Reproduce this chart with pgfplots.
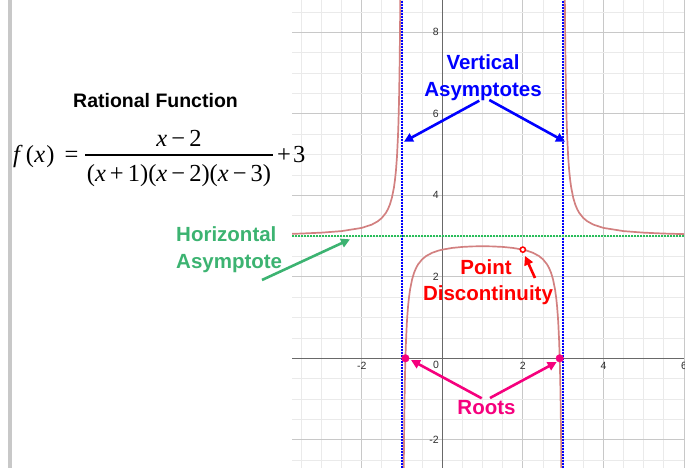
\documentclass[border=0pt]{standalone}
\usepackage{pgfplots}
\pgfplotsset{compat=1.18}
\usepackage{fontspec}
\setmainfont{Liberation Sans}
\newfontfamily\tnr{Liberation Serif}
\usetikzlibrary{arrows.meta}
\definecolor{curve}{RGB}{210,128,128}
\definecolor{vblue}{RGB}{0,0,255}
\definecolor{hgreen}{RGB}{60,179,113}
\definecolor{dgreen}{RGB}{40,190,90}
\definecolor{pred}{RGB}{255,0,0}
\definecolor{rpink}{RGB}{245,0,125}
\definecolor{majgrid}{RGB}{200,200,200}
\definecolor{mingrid}{RGB}{234,234,234}
\definecolor{axisgray}{RGB}{105,105,105}
\definecolor{sidebar}{RGB}{200,200,200}
\begin{document}
\begin{tikzpicture}
\begin{axis}[
  at={(292pt,0pt)}, anchor=south west,
  scale only axis, width=392pt, height=468pt,
  xmin=-3.73, xmax=6, ymin=-2.692, ymax=8.793,
  axis lines=middle, axis line style={-, draw=axisgray, line width=0.9pt},
  xtick={-2,0,2,4,6}, ytick={-2,2,4,6,8},
  minor xtick={-3.5,-3,...,6}, minor ytick={-2.5,-2,...,8.5},
  grid=both,
  major grid style={draw=majgrid, line width=0.8pt},
  minor grid style={draw=mingrid, line width=0.8pt},
  major tick length=0pt, minor tick length=0pt,
  /pgf/number format/assume math mode=true,
  ticklabel style={font=\fontsize{10.5}{12}\selectfont, text=black!82},
  clip=true,
]
% left branch
\addplot[curve, line width=1.7pt] coordinates {
(-3.73,3.0544) (-3.5,3.0615) (-3,3.0833) (-2.5,3.1212) (-2,3.2) (-1.75,3.2807)
(-1.6,3.3623) (-1.5,3.4444) (-1.4,3.5682) (-1.35,3.6568) (-1.3,3.7752) (-1.25,3.9412)
(-1.2,4.1905) (-1.175,4.3687) (-1.15,4.6064) (-1.125,4.9394) (-1.1,5.4390) (-1.09,5.7167)
(-1.08,6.0637) (-1.07,6.5100) (-1.06,7.1051) (-1.05,7.9383) (-1.045,8.4937) (-1.04,9.1881) (-1.035,10.081)};
% middle branch
\addplot[curve, line width=1.7pt] coordinates {
(-0.96,-3.3131) (-0.955,-2.6188) (-0.95,-2.0633) (-0.94,-1.2301) (-0.93,-0.6350) (-0.92,-0.1888)
(-0.91,0.1583) (-0.9,0.4359) (-0.88,0.8522) (-0.87,1.0123) (-0.85,1.2684) (-0.83,1.4641)
(-0.8,1.6842) (-0.75,1.9333) (-0.7,2.0991) (-0.65,2.2172) (-0.6,2.3056) (-0.5,2.4286)
(-0.4,2.5098) (-0.25,2.5897) (-0.1,2.6416) (0,2.6667) (0.25,2.7091) (0.5,2.7333) (0.75,2.7460)
(1,2.75) (1.25,2.7460) (1.5,2.7333) (1.75,2.7091) (2,2.6667) (2.1,2.6416) (2.25,2.5897)
(2.4,2.5098) (2.5,2.4286) (2.6,2.3056) (2.65,2.2172) (2.7,2.0991) (2.75,1.9333)
(2.8,1.6842) (2.83,1.4641) (2.85,1.2684) (2.87,1.0123) (2.88,0.8522) (2.9,0.4359)
(2.91,0.1583) (2.92,-0.1888) (2.93,-0.6350) (2.94,-1.2301) (2.95,-2.0633) (2.955,-2.6188) (2.96,-3.3131)};
% right branch
\addplot[curve, line width=1.7pt] coordinates {
(3.035,10.081) (3.04,9.1881) (3.045,8.4937) (3.05,7.9383) (3.06,7.1051) (3.07,6.5100)
(3.08,6.0637) (3.09,5.7167) (3.1,5.4390) (3.125,4.9394) (3.15,4.6064) (3.175,4.3687)
(3.2,4.1905) (3.25,3.9412) (3.3,3.7752) (3.35,3.6568) (3.4,3.5682) (3.5,3.4444)
(3.6,3.3623) (3.75,3.2807) (4,3.2) (4.5,3.1212) (5,3.0833) (5.5,3.0615) (6,3.0476)};
% asymptotes
\addplot[vblue, line width=1.5pt, dash pattern=on 1.5pt off 1.5pt] coordinates {(-1,-2.692) (-1,8.793)};
\addplot[vblue, line width=1.5pt, dash pattern=on 1.5pt off 1.5pt] coordinates {(3,-2.692) (3,8.793)};
\addplot[dgreen, line width=1.5pt, dash pattern=on 1.5pt off 1.5pt] coordinates {(-3.73,3) (6,3)};
% roots and hole
\addplot[only marks, mark=*, mark size=3.8pt, mark options={fill=rpink, draw=rpink}] coordinates {(-0.915,0) (2.915,0)};
\addplot[only marks, mark=*, mark size=2.6pt, mark options={fill=white, draw=pred, line width=1.5pt}] coordinates {(2,2.6667)};
\node[anchor=north east, font=\fontsize{10.5}{12}\selectfont, text=black!82, inner sep=3pt] at (axis cs:0,0) {0};
\end{axis}
\begin{scope}[x=1pt,y=1pt]
\fill[sidebar] (7.5,0) rectangle (11.5,468);
\fill[white] (684.5,0) rectangle (694,468);
\node[anchor=base, inner sep=0, font=\bfseries\fontsize{19.5}{22}\selectfont] at (155.5,360) {Rational Function};
% formula
\node[anchor=base west, inner sep=0, font=\tnr\fontsize{24.5}{27}\selectfont] at (13,305) {\textit{f}\hspace{3pt}(\hspace{0.5pt}\textit{x}\hspace{1pt})};
\node[anchor=base, inner sep=0, font=\tnr\fontsize{24.5}{27}\selectfont] at (71.5,305) {=};
\draw[line width=1.2pt] (85,313) -- (273,313);
\node[anchor=base, inner sep=0, font=\tnr\fontsize{24.5}{27}\selectfont] at (179,321.3) {\textit{x}\,−\,2};
\node[anchor=base, inner sep=0, font=\tnr\fontsize{24.5}{27}\selectfont] at (179,286) {(\textit{x}\,+\,1)(\textit{x}\,−\,2)(\textit{x}\,−\,3)};
\node[anchor=base west, inner sep=0, font=\tnr\fontsize{24.5}{27}\selectfont] at (277,305) {+\hspace{2pt}3};
% labels
\node[anchor=base, inner sep=0, text=vblue, font=\bfseries\fontsize{20.5}{24}\selectfont] at (483,398) {Vertical};
\node[anchor=base, inner sep=0, text=vblue, font=\bfseries\fontsize{20.5}{24}\selectfont] at (483,371.3) {Asymptotes};
\node[anchor=base west, inner sep=0, text=hgreen, font=\bfseries\fontsize{20.5}{24}\selectfont] at (176,226.3) {Horizontal};
\node[anchor=base west, inner sep=0, text=hgreen, font=\bfseries\fontsize{20.5}{24}\selectfont] at (176,199.7) {Asymptote};
\node[anchor=base, inner sep=0, text=pred, font=\bfseries\fontsize{20.5}{24}\selectfont] at (486,193) {Point};
\node[anchor=base, inner sep=0, text=pred, font=\bfseries\fontsize{20.5}{24}\selectfont] at (488,167.3) {Discontinuity};
\node[anchor=base, inner sep=0, text=rpink, font=\bfseries\fontsize{20.5}{24}\selectfont] at (486.5,53) {Roots};
% arrows
\draw[vblue, line width=2.6pt, -{Triangle[length=9pt,width=9pt]}] (479.3,367.3) -- (404,326.3);
\draw[vblue, line width=2.6pt, -{Triangle[length=9pt,width=9pt]}] (489.3,368) -- (565,326.3);
\draw[hgreen, line width=2.6pt, -{Triangle[length=9pt,width=9pt]}] (262,188) -- (350,228.7);
\draw[pred, line width=2.6pt, -{Triangle[length=9pt,width=9pt]}] (535,190) -- (525,212);
\draw[rpink, line width=2.6pt, -{Triangle[length=9pt,width=9pt]}] (481.7,69.7) -- (411,108);
\draw[rpink, line width=2.6pt, -{Triangle[length=9pt,width=9pt]}] (490,70) -- (556.7,106);
\pgfresetboundingbox
\path[use as bounding box] (0,0) rectangle (693,468);
\end{scope}
\end{tikzpicture}
\end{document}
